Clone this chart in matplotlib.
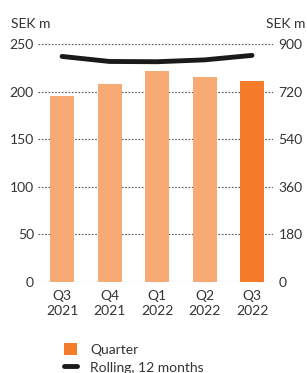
"""Quarterly bars with rolling 12 month line."""

import matplotlib.pyplot as plt
from matplotlib.patches import Patch
from matplotlib.lines import Line2D

quarters = ["Q3\n2021", "Q4\n2021", "Q1\n2022", "Q2\n2022", "Q3\n2022"]
quarter_values = [195, 208, 222, 215, 211]
rolling_values = [853, 834, 833, 840, 857]
left_ticks = [0, 50, 100, 150, 200, 250]
right_ticks = [0, 180, 360, 540, 720, 900]

light = "#F8AA74"
dark = "#F47B2A"
font = "Lato"

plt.rcParams["font.family"] = [font, "DejaVu Sans"]

fig = plt.figure(figsize=(3.07, 3.73), dpi=100)
ax = fig.add_axes([0.124, 0.244, 0.765, 0.638])
ax2 = ax.twinx()

x = list(range(len(quarters)))
colors = [light] * (len(quarters) - 1) + [dark]
ax.bar(x, quarter_values, width=0.505, color=colors, zorder=2)
ax.set_ylim(0, 250)
ax.set_yticks(left_ticks)
ax.set_xlim(-0.505, 4.44)
ax.set_xticks(x)
ax.set_xticklabels(quarters, fontsize=10, color="#333333", linespacing=1.25)
ax.grid(axis="y", linestyle=(0, (1.5, 1.5)), color="#555555", linewidth=0.8, zorder=0)
ax.set_axisbelow(True)

ax2.plot(x, rolling_values, color="#1a1a1a", linewidth=3.5, solid_capstyle="round", zorder=3)
ax2.set_ylim(0, 900)
ax2.set_yticks(right_ticks)

for a in (ax, ax2):
    for s in a.spines.values():
        s.set_visible(False)
    a.tick_params(length=0, labelsize=10, labelcolor="#333333")
ax.tick_params(axis="y", pad=3)
ax2.tick_params(axis="y", pad=4)
ax.tick_params(axis="x", pad=6)

fig.text(0.036, 0.935, "SEK m", fontsize=10, color="#333333", va="center")
fig.text(0.995, 0.935, "SEK m", fontsize=10, color="#333333", va="center", ha="right")

handles = [
    Patch(facecolor=dark, edgecolor="none"),
    Line2D([0], [0], color="#1a1a1a", linewidth=3.5, solid_capstyle="round"),
]
fig.legend(handles, ["Quarter", "Rolling, 12 months"], loc="upper left",
           bbox_to_anchor=(0.185, 0.098), frameon=False, fontsize=10,
           handlelength=0.95, handleheight=0.95, handletextpad=0.95,
           labelspacing=0.35, borderpad=0, labelcolor="#333333")

fig.savefig("out.png", dpi=100)
